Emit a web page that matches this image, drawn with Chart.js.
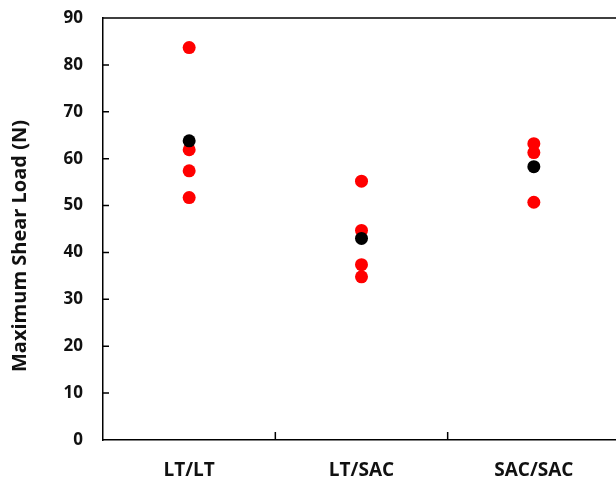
<!DOCTYPE html>
<html lang="en">
<head>
<meta charset="UTF-8">
<title>Maximum Shear Load</title>
<script src="https://cdn.jsdelivr.net/npm/chart.js"></script>
<style>
  html, body { margin: 0; padding: 0; background: #fff; overflow: hidden; }
  #shearChart { display: block; }
</style>
</head>
<body>
<canvas id="shearChart" width="620" height="484"></canvas>
<script>
// Data
const categories = ['LT/LT', 'LT/SAC', 'SAC/SAC'];
const samplesLTLT = [83.7, 61.9, 57.4, 51.7];
const samplesLTSAC = [55.2, 44.7, 37.4, 34.8];
const samplesSACSAC = [63.2, 61.3, 50.7];
const meanValues = [63.8, 43.0, 58.3];
const yTicks = [0, 10, 20, 30, 40, 50, 60, 70, 80, 90];
const yTitle = 'Maximum Shear Load (N)';

const sampleGroups = [samplesLTLT, samplesLTSAC, samplesSACSAC];
const samplePoints = [];
sampleGroups.forEach((group, i) => {
  group.forEach(v => samplePoints.push({ x: categories[i], y: v }));
});
const meanPoints = meanValues.map((v, i) => ({ x: categories[i], y: v }));

// inside tick marks, top frame line and the y title (sits a bit low in the original)
const frameTicks = {
  id: 'frameTicks',
  afterDraw(chart) {
    const { ctx, chartArea, scales } = chart;
    const x = scales.x, y = scales.y;
    ctx.save();
    ctx.strokeStyle = '#000';
    ctx.lineWidth = 1.5;
    ctx.beginPath();
    ctx.moveTo(chartArea.left, chartArea.top);
    ctx.lineTo(chartArea.right, chartArea.top);
    yTicks.forEach(t => {
      if (t === 0 || t === 90) return;
      const py = y.getPixelForValue(t);
      ctx.moveTo(chartArea.left, py);
      ctx.lineTo(chartArea.left + 6, py);
    });
    for (let i = 0; i < categories.length - 1; i++) {
      const px = (x.getPixelForValue(i) + x.getPixelForValue(i + 1)) / 2;
      ctx.moveTo(px, chartArea.bottom);
      ctx.lineTo(px, chartArea.bottom - 8);
    }
    ctx.stroke();

    ctx.translate(20, (chartArea.top + chartArea.bottom) / 2 + 17);
    ctx.rotate(-Math.PI / 2);
    ctx.fillStyle = '#111';
    ctx.font = 'bold 20px "Open Sans"';
    ctx.textAlign = 'center';
    ctx.textBaseline = 'middle';
    ctx.fillText(yTitle, 0, 0);
    ctx.restore();
  }
};

new Chart(document.getElementById('shearChart'), {
  type: 'line',
  data: {
    labels: categories,
    datasets: [
      {
        label: 'Mean',
        data: meanPoints,
        showLine: false,
        pointRadius: 6.5,
        pointBorderWidth: 0,
        pointBackgroundColor: '#000000',
        pointBorderColor: '#000000',
        order: 0
      },
      {
        label: 'Samples',
        data: samplePoints,
        showLine: false,
        pointRadius: 6.5,
        pointBorderWidth: 0,
        pointBackgroundColor: '#ff0000',
        pointBorderColor: '#ff0000',
        order: 1
      }
    ]
  },
  options: {
    responsive: false,
    animation: false,
    layout: { autoPadding: false, padding: { top: 18, right: 0, left: 0, bottom: 0 } },
    plugins: {
      legend: { display: false },
      tooltip: { enabled: false }
    },
    scales: {
      x: {
        type: 'category',
        offset: true,
        grid: { display: false, drawTicks: false },
        border: { display: true, color: '#000', width: 1.5 },
        ticks: {
          color: '#111',
          padding: 19,
          font: { family: 'Open Sans', size: 19, weight: 'bold' }
        },
        afterFit(scale) {
          scale.height = 44;
          scale.paddingLeft = 0;
          scale.paddingRight = 0;
        }
      },
      y: {
        min: 0,
        max: 90,
        afterBuildTicks(scale) { scale.ticks = yTicks.map(v => ({ value: v })); },
        grid: { display: false, drawTicks: false },
        border: { display: true, color: '#000', width: 1.5 },
        ticks: {
          color: '#111',
          padding: 20,
          font: { family: 'Open Sans', size: 17, weight: 'bold' }
        },
        afterFit(scale) {
          scale.width = 103;
          scale.paddingTop = 0;
          scale.paddingBottom = 0;
        }
      }
    }
  },
  plugins: [frameTicks]
});
</script>
</body>
</html>
